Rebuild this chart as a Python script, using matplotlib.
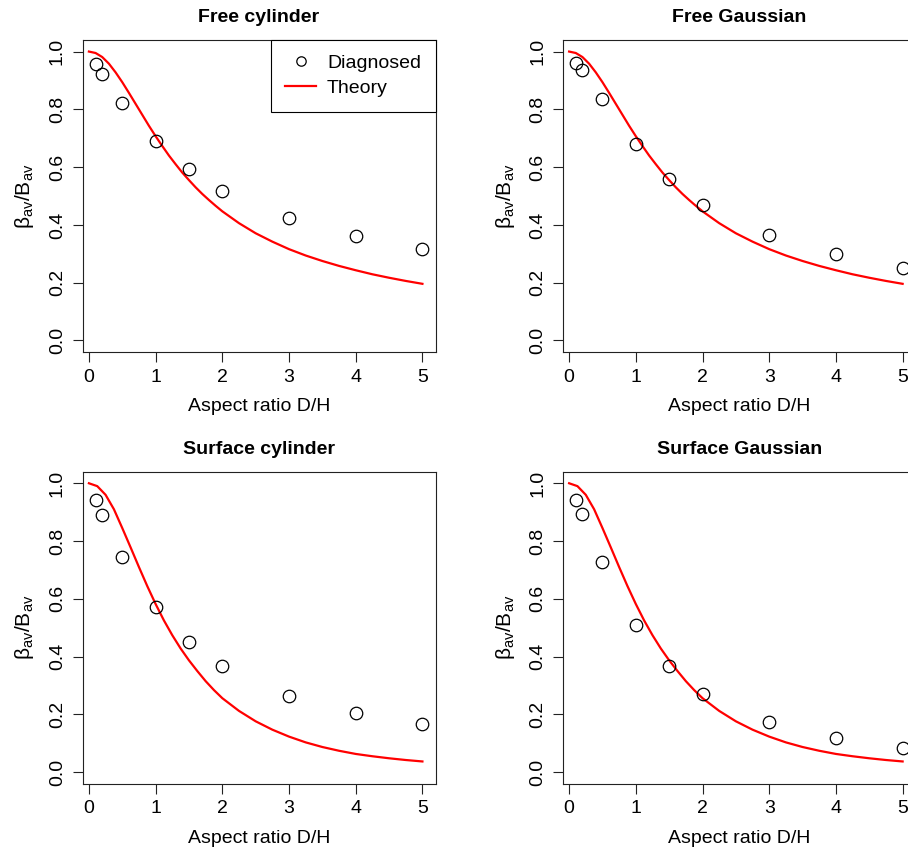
import numpy as np
import matplotlib
matplotlib.use("Agg")
import matplotlib.pyplot as plt

plt.rcParams["font.family"] = ["Liberation Sans", "DejaVu Sans"]
plt.rcParams["mathtext.fontset"] = "custom"
plt.rcParams["mathtext.rm"] = "Liberation Sans"
plt.rcParams["mathtext.it"] = "Liberation Sans"

# Diagnosed points (aspect ratio D/H)
ratio = [0.1, 0.2, 0.5, 1, 1.5, 2, 3, 4, 5]
free_cyl = [0.956, 0.922, 0.823, 0.692, 0.594, 0.519, 0.424, 0.361, 0.316]
free_gauss = [0.962, 0.937, 0.836, 0.680, 0.560, 0.469, 0.365, 0.298, 0.252]
surf_cyl = [0.942, 0.889, 0.744, 0.570, 0.450, 0.369, 0.265, 0.205, 0.166]
surf_gauss = [0.942, 0.893, 0.727, 0.509, 0.366, 0.272, 0.172, 0.118, 0.084]

# Theory curves
theory_x_free = [0, 0.1, 0.2, 0.3, 0.4, 0.5, 0.6, 0.7, 0.8, 0.9, 1.0, 1.1, 1.2,
                 1.3, 1.4, 1.5, 1.6, 1.7, 1.8, 1.9, 2.0, 2.25, 2.5, 2.75, 3.0,
                 3.25, 3.5, 3.75, 4.0, 4.25, 4.5, 4.75, 5.0]
theory_free = [1.000, 0.995, 0.981, 0.958, 0.928, 0.894, 0.857, 0.819, 0.781,
               0.743, 0.707, 0.673, 0.640, 0.610, 0.581, 0.555, 0.530, 0.507,
               0.486, 0.466, 0.447, 0.406, 0.371, 0.342, 0.316, 0.294, 0.275,
               0.258, 0.243, 0.229, 0.217, 0.206, 0.196]
theory_x_surf = [0, 0.125, 0.25, 0.375, 0.5, 0.625, 0.75, 0.875, 1.0, 1.125,
                 1.25, 1.375, 1.5, 1.625, 1.75, 1.875, 2.0, 2.25, 2.5, 2.75,
                 3.0, 3.25, 3.5, 3.75, 4.0, 4.25, 4.5, 4.75, 5.0]
theory_surf = [1.000, 0.990, 0.960, 0.910, 0.845, 0.778, 0.710, 0.644, 0.582,
               0.525, 0.474, 0.428, 0.387, 0.350, 0.315, 0.284, 0.256, 0.212,
               0.176, 0.147, 0.123, 0.103, 0.087, 0.074, 0.063, 0.055, 0.048,
               0.042, 0.037]

panels = [
    ("Free cylinder", free_cyl, theory_x_free, theory_free),
    ("Free Gaussian", free_gauss, theory_x_free, theory_free),
    ("Surface cylinder", surf_cyl, theory_x_surf, theory_surf),
    ("Surface Gaussian", surf_gauss, theory_x_surf, theory_surf),
]

W, H = 908, 852
fig = plt.figure(figsize=(W / 100, H / 100), dpi=100)

lefts = [82.5, 562.7]
tops = [40, 471.7]
aw, ah = 353, 312
fs = 14

for i, (title, pts, tx, ty) in enumerate(panels):
    col, row = i % 2, i // 2
    ax = fig.add_axes([lefts[col] / W, 1 - (tops[row] + ah) / H, aw / W, ah / H])
    ax.plot(tx, ty, color="red", lw=1.6, label="Theory")
    ax.plot(ratio, pts, "o", mfc="none", mec="black", ms=9, mew=0.9,
            label="Diagnosed", clip_on=False)
    # R style: 4% padding around the data range
    ax.set_xlim(0.1 - 0.196, 5 + 0.196)
    ax.set_ylim(-0.04, 1.04)
    ax.set_xticks(range(6))
    ax.set_yticks([0, 0.2, 0.4, 0.6, 0.8, 1.0])
    ax.set_yticklabels(["0.0", "0.2", "0.4", "0.6", "0.8", "1.0"])
    for lab in ax.get_yticklabels():
        lab.set_rotation(90)
        lab.set_va("center")
    ax.tick_params(direction="out", length=7, width=0.8, labelsize=fs, pad=5,
                   color="#222222")
    for s in ax.spines.values():
        s.set_linewidth(0.8)
        s.set_color("#222222")
    ax.set_title(title, fontsize=fs, fontweight="bold", pad=13)
    ax.set_xlabel("Aspect ratio D/H", fontsize=fs, labelpad=9)
    ax.set_ylabel(r"$\mathregular{\beta_{av}/B_{av}}$", fontsize=15, labelpad=9)
    if i == 0:
        h, l = ax.get_legend_handles_labels()
        leg = ax.legend(h[::-1], l[::-1], loc="upper right", borderaxespad=0,
                        fancybox=False, edgecolor="black", framealpha=1,
                        fontsize=fs, markerscale=0.75, handlelength=1.6,
                        handletextpad=0.55, borderpad=0.75, labelspacing=0.37)
        leg.get_frame().set_linewidth(0.8)

fig.savefig("out.png", dpi=100)
